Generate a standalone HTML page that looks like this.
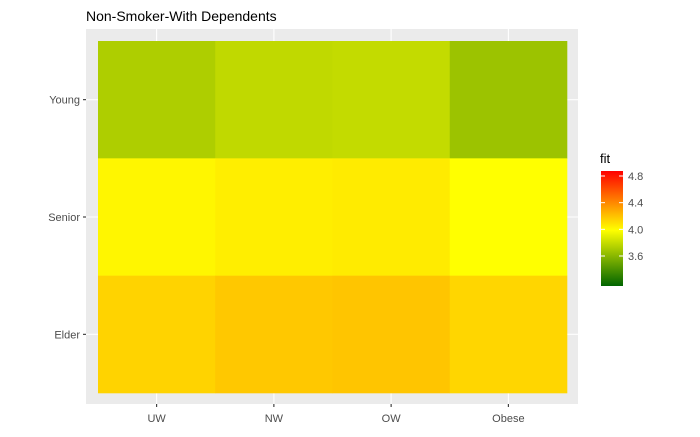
<!DOCTYPE html>
<html><head><meta charset="utf-8"><style>
body{margin:0;background:#fff;}
svg text{font-family:"Liberation Sans",Arial,sans-serif;}
</style></head><body>
<svg id="chart" width="700" height="432" xmlns="http://www.w3.org/2000/svg">
<defs>
<linearGradient id="grad" x1="0" y1="1" x2="0" y2="0">
<stop offset="0" stop-color="#006400"/>
<stop offset="0.4857" stop-color="#ffff00"/>
<stop offset="1" stop-color="#ff0000"/>
</linearGradient>
</defs>
<text x="86" y="21" font-size="14" fill="#000">Non-Smoker-With Dependents</text>
<rect x="86" y="29" width="492" height="375" fill="#ebebeb"/>
<g id="grid"></g>
<g id="tiles"></g>
<g id="axes"></g>
<g id="legend">
<text x="600" y="163" font-size="13" fill="#000">fit</text>
<rect x="601" y="171" width="22" height="115" fill="url(#grad)"/>
</g>
</svg>
<script>
const xCats=["UW","NW","OW","Obese"];
const yCats=["Young","Senior","Elder"];
const young=[3.73,3.79,3.80,3.67];
const senior=[4.03,4.06,4.07,4.0];
const elder=[4.15,4.19,4.20,4.14];
const legendTicks=[3.6,4.0,4.4,4.8];
const values=[young,senior,elder];
const vMin=3.15,vMid=4.0,vMax=4.875;
const x0=98,x1=567,y0=41,y1=393;
const cw=(x1-x0)/xCats.length,rh=(y1-y0)/yCats.length;
const xPos=i=>x0+i*cw, yPos=j=>y0+j*rh;
function color(v){
  let r,g,b=0;
  if(v<=vMid){const t=Math.max(0,(v-vMin)/(vMid-vMin));r=255*t;g=100+155*t;}
  else{const t=Math.min(1,(v-vMid)/(vMax-vMid));r=255;g=255*(1-t);}
  return `rgb(${Math.round(r)},${Math.round(g)},${b})`;
}
const legY=v=>286-(v-vMin)/(vMax-vMin)*115;
const NS="http://www.w3.org/2000/svg";
function mk(tag,attrs,parent){const e=document.createElementNS(NS,tag);for(const k in attrs)e.setAttribute(k,attrs[k]);parent.appendChild(e);return e;}
const grid=document.getElementById('grid'),tiles=document.getElementById('tiles'),axes=document.getElementById('axes'),legend=document.getElementById('legend');
xCats.forEach((c,i)=>{
  const cx=xPos(i)+cw/2;
  const gl=mk('line',{x1:cx,x2:cx,y1:29,y2:404,stroke:'#fff','stroke-width':1.1},grid);
  
  
  const tk=mk('line',{x1:cx,x2:cx,y1:404,y2:407,stroke:'#333','stroke-width':1.1},axes);
  
  
  const t=mk('text',{x:cx,y:422,'font-size':11,fill:'#4d4d4d','text-anchor':'middle'},axes);
  t.textContent=c;
  
  
});
yCats.forEach((c,j)=>{
  const cy=yPos(j)+rh/2;
  const gl=mk('line',{x1:86,x2:578,y1:cy,y2:cy,stroke:'#fff','stroke-width':1.1},grid);
  
  
  const tk=mk('line',{x1:83,x2:86,y1:cy,y2:cy,stroke:'#333','stroke-width':1.1},axes);
  
  
  const t=mk('text',{x:80,y:cy+4,'font-size':11,fill:'#4d4d4d','text-anchor':'end'},axes);
  t.textContent=c;
  
  
  values[j].forEach((v,i)=>{
    const r=mk('rect',{x:xPos(i),y:yPos(j),width:cw+0.3,height:rh+0.3,fill:color(v)},tiles);
    
    
  });
});
legendTicks.forEach(v=>{
  const y=legY(v);
  const a=mk('line',{x1:601,x2:605,y1:y,y2:y,stroke:'#fff','stroke-width':1},legend);
  
  
  const b=mk('line',{x1:619,x2:623,y1:y,y2:y,stroke:'#fff','stroke-width':1},legend);
  
  
  const t=mk('text',{x:628,y:y+4,'font-size':11,fill:'#4d4d4d'},legend);
  t.textContent=v.toFixed(1);
  
  
});
</script>
</body></html>
